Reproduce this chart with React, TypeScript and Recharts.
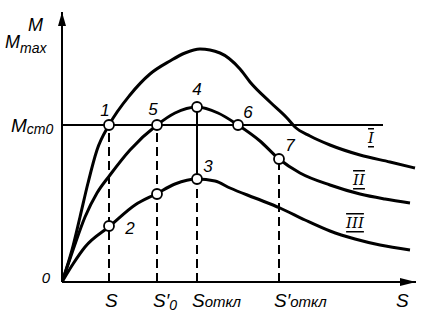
import { ComposedChart, Line, XAxis, YAxis, ReferenceLine, ReferenceDot } from 'recharts';

// slip s (arbitrary units) vs torque M
const curveI = [
  { s: 0, m: 0 }, { s: 0.1, m: 0.32 }, { s: 0.18, m: 0.65 }, { s: 0.26, m: 0.99 },
  { s: 0.35, m: 1.32 }, { s: 0.47, m: 1.57 }, { s: 0.68, m: 1.87 }, { s: 0.88, m: 2.08 },
  { s: 1.08, m: 2.21 }, { s: 1.23, m: 2.29 }, { s: 1.38, m: 2.33 }, { s: 1.58, m: 2.29 },
  { s: 1.78, m: 2.13 }, { s: 1.88, m: 2.0 }, { s: 2.08, m: 1.8 }, { s: 2.25, m: 1.64 },
  { s: 2.33, m: 1.55 }, { s: 2.48, m: 1.46 }, { s: 2.68, m: 1.37 }, { s: 2.98, m: 1.27 },
  { s: 3.28, m: 1.2 }, { s: 3.53, m: 1.14 },
];
const curveII = [
  { s: 0, m: 0 }, { s: 0.11, m: 0.32 }, { s: 0.23, m: 0.65 }, { s: 0.35, m: 0.89 },
  { s: 0.48, m: 1.07 }, { s: 0.68, m: 1.32 }, { s: 0.95, m: 1.57 }, { s: 1.13, m: 1.69 },
  { s: 1.35, m: 1.75 }, { s: 1.56, m: 1.69 }, { s: 1.76, m: 1.57 }, { s: 1.98, m: 1.41 },
  { s: 2.17, m: 1.23 }, { s: 2.38, m: 1.09 }, { s: 2.68, m: 0.97 }, { s: 2.98, m: 0.88 },
  { s: 3.23, m: 0.83 }, { s: 3.48, m: 0.79 },
];
const curveIII = [
  { s: 0, m: 0 }, { s: 0.11, m: 0.18 }, { s: 0.23, m: 0.35 }, { s: 0.48, m: 0.56 },
  { s: 0.73, m: 0.77 }, { s: 0.94, m: 0.88 }, { s: 1.13, m: 0.98 }, { s: 1.35, m: 1.03 },
  { s: 1.53, m: 1.01 }, { s: 1.68, m: 0.94 }, { s: 1.93, m: 0.84 }, { s: 2.18, m: 0.74 },
  { s: 2.43, m: 0.62 }, { s: 2.68, m: 0.51 }, { s: 2.93, m: 0.43 }, { s: 3.18, m: 0.37 },
  { s: 3.48, m: 0.32 },
];

const mStart = 1.57;
const mStartEnd = 3.21;

const points = [
  { s: 0.47, m: 1.57, name: '1' },
  { s: 0.47, m: 0.56, name: '2' },
  { s: 1.35, m: 1.03, name: '3' },
  { s: 1.35, m: 1.75, name: '4' },
  { s: 0.95, m: 1.57, name: '5' },
  { s: 1.76, m: 1.57, name: '6' },
  { s: 2.17, m: 1.23, name: '7' },
  { s: 0.95, m: 0.88, name: '' },
];
// label offsets in px, by point name
const labelOffset: Record<string, [number, number]> = {
  '1': [-4, -15], '2': [21, 2], '3': [11, -13], '4': [0, -18],
  '5': [-4, -16], '6': [10, -13], '7': [11, -14], '': [0, 0],
};

const dashed = [
  { s: 0.47, from: 0, to: 1.57 },
  { s: 0.95, from: 0, to: 1.57 },
  { s: 1.35, from: 0, to: 1.03 },
  { s: 2.17, from: 0, to: 1.23 },
];
const solidSeg = { s: 1.35, from: 1.03, to: 1.75 };

const curveNames = [
  { s: 3.09, m: 1.44, name: 'I' },
  { s: 2.97, m: 1.02, name: 'II' },
  { s: 2.93, m: 0.59, name: 'III' },
];

const sTicks = [0.47, 0.95, 1.35, 2.17, 3.38];
const sTickLabels = [
  { main: 'S', sub: '' },
  { main: 'S′', sub: '0' },
  { main: 'S', sub: 'откл' },
  { main: 'S′', sub: 'откл' },
  { main: 'S', sub: '' },
];
const mTicks = [0, 1.57, 2.42];

const font = "'Liberation Sans', Arial, sans-serif";
const ink = '#000';

function XTick(props: any) {
  const { x, y, index } = props;
  const l = sTickLabels[index];
  if (!l) return null;
  const base = y + 17;
  const left = l.sub.length > 1 ? x - 5 : x - 4;
  return (
    <text x={left} y={base} fontFamily={font} fontStyle="italic" fill={ink} fontSize={19}>
      {l.main}
      {l.sub && (
        <tspan dy={l.sub === '0' ? 3 : 0} fontSize={l.sub === '0' ? 14 : 15}>
          {l.sub}
        </tspan>
      )}
    </text>
  );
}

function YTick(props: any) {
  const { y, payload } = props;
  const v = payload.value;
  if (v === 0) {
    return (
      <text x={46} y={y + 1} fontFamily={font} fontStyle="italic" fontSize={15} fill={ink} textAnchor="middle">0</text>
    );
  }
  if (v === mStart) {
    return (
      <text x={11} y={y + 7} fontFamily={font} fontStyle="italic" fill={ink} fontSize={19}>
        M<tspan dy={2} fontSize={14}>ст0</tspan>
      </text>
    );
  }
  return (
    <g fontFamily={font} fontStyle="italic" fill={ink}>
      <text x={28} y={y - 9} fontSize={18}>M</text>
      <text x={5} y={y + 8} fontSize={18}>
        M<tspan dy={5} fontSize={14}>max</tspan>
      </text>
    </g>
  );
}

function PointLabel(name: string) {
  return (props: any) => {
    const { viewBox } = props;
    const cx = viewBox.x + (viewBox.width || 0) / 2;
    const cy = viewBox.y + (viewBox.height || 0) / 2;
    const [dx, dy] = labelOffset[name];
    return (
      <text x={cx + dx} y={cy + dy} dominantBaseline="central" textAnchor="middle"
        fontFamily={font} fontStyle="italic" fontSize={17} fill={ink}>{name}</text>
    );
  };
}

function CurveName(name: string) {
  return (props: any) => {
    const { viewBox } = props;
    const cx = viewBox.x + (viewBox.width || 0) / 2;
    const cy = viewBox.y + (viewBox.height || 0) / 2;
    return (
      <text x={cx} y={cy} dominantBaseline="central" textAnchor="middle"
        fontFamily="'DejaVu Serif', serif" fontStyle="italic" fontSize={15} fill={ink}
        style={{ textDecoration: 'underline overline' }}>{name}</text>
    );
  };
}

const ArrowUp = (props: any) => (
  <path d={`M${props.cx},${props.cy} l-4,14 l8,0 z`} fill={ink} />
);
const ArrowRight = (props: any) => (
  <path d={`M${props.cx},${props.cy} l-16,-4 l0,8 z`} fill={ink} />
);

export default function App() {
  return (
    <div style={{ width: 436, height: 316, background: '#fff' }}>
      <style>{'body{margin:0}'}</style>
      <ComposedChart width={436} height={316} margin={{ top: 12, right: 20, left: 0, bottom: 0 }}>
        <XAxis
          type="number"
          dataKey="s"
          domain={[0, 3.54]}
          ticks={sTicks}
          tick={<XTick />}
          tickLine={false}
          axisLine={{ stroke: ink, strokeWidth: 2 }}
          height={34}
          allowDataOverflow
        />
        <YAxis
          type="number"
          dataKey="m"
          domain={[0, 2.7]}
          ticks={mTicks}
          tick={<YTick />}
          tickLine={false}
          axisLine={{ stroke: ink, strokeWidth: 2 }}
          width={62}
          allowDataOverflow
        />
        <ReferenceLine segment={[{ x: 0, y: mStart }, { x: mStartEnd, y: mStart }]} stroke={ink} strokeWidth={2} />
        {dashed.map((d) => (
          <ReferenceLine key={d.s} segment={[{ x: d.s, y: d.from }, { x: d.s, y: d.to }]}
            stroke={ink} strokeWidth={2} strokeDasharray="9 5" />
        ))}
        <ReferenceLine segment={[{ x: solidSeg.s, y: solidSeg.from }, { x: solidSeg.s, y: solidSeg.to }]}
          stroke={ink} strokeWidth={2} />
        <Line data={curveI} dataKey="m" type="monotone" stroke={ink} strokeWidth={3} dot={false} isAnimationActive={false} />
        <Line data={curveII} dataKey="m" type="monotone" stroke={ink} strokeWidth={3} dot={false} isAnimationActive={false} />
        <Line data={curveIII} dataKey="m" type="monotone" stroke={ink} strokeWidth={3} dot={false} isAnimationActive={false} />
        {points.map((p, i) => (
          <ReferenceDot key={i} x={p.s} y={p.m} r={5} fill="#fff" stroke={ink} strokeWidth={1.8}
            label={PointLabel(p.name)} />
        ))}
        {curveNames.map((c) => (
          <ReferenceDot key={c.name} x={c.s} y={c.m} r={0} fill="none" stroke="none" label={CurveName(c.name)} />
        ))}
        <ReferenceDot x={0} y={2.7} shape={ArrowUp} />
        <ReferenceDot x={3.54} y={0} shape={ArrowRight} />
      </ComposedChart>
    </div>
  );
}
